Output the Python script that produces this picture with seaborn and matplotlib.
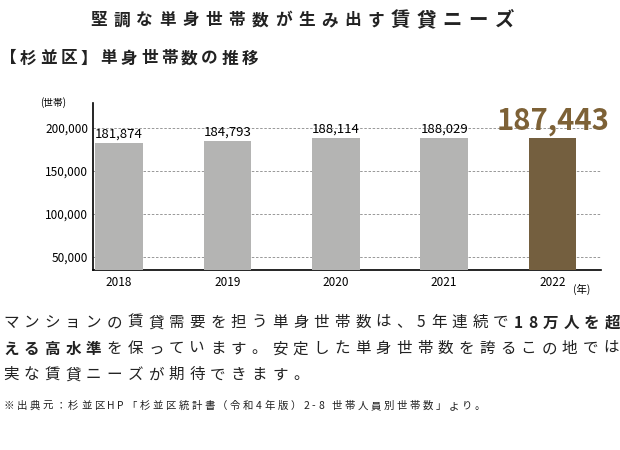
import matplotlib
matplotlib.use("Agg")
import matplotlib.pyplot as plt
import seaborn as sns
import pandas as pd

plt.rcParams["font.family"] = "Noto Sans CJK JP"

years = ["2018", "2019", "2020", "2021", "2022"]
households = [181874, 184793, 188114, 188029, 187443]
bar_colors = ["#b4b4b3", "#b4b4b3", "#b4b4b3", "#b4b4b3", "#7d6136"]
yticks = [50000, 100000, 150000, 200000]

df = pd.DataFrame({"year": years, "n": households})

fig = plt.figure(figsize=(6.2, 4.5), dpi=100)
ax = fig.add_axes([0.15, 0.40, 0.82, 0.37])
sns.barplot(data=df, x="year", y="n", hue="year", palette=bar_colors,
            legend=False, width=0.44, ax=ax, zorder=3)

ax.set_ylim(35000, 228000)
ax.set_xlim(-0.24, 4.45)
ax.set_yticks(yticks)
ax.set_yticklabels([f"{v:,}" for v in yticks], fontsize=8.5)
ax.yaxis.grid(True, linestyle=(0, (3, 2)), color="#888888", linewidth=0.6, zorder=0)
ax.tick_params(axis="both", length=0, labelsize=8.5)
ax.tick_params(axis="x", pad=4)
ax.set_xlabel("")
ax.set_ylabel("")
for s in ["top", "right"]:
    ax.spines[s].set_visible(False)
ax.spines["left"].set_linewidth(1.2)
ax.spines["bottom"].set_linewidth(1.2)

for i, v in enumerate(households[:-1]):
    ax.text(i, v + 2500, f"{v:,}", ha="center", va="bottom", fontsize=9.5, zorder=4)
ax.text(4, households[-1] + 2500, f"{households[-1]:,}", ha="center", va="bottom",
        fontsize=21, fontweight="bold", color="#7d6136", zorder=4)

fig.text(0.065, 0.772, "(世帯)", fontsize=7, ha="left", va="center")
fig.text(0.925, 0.357, "(年)", fontsize=7.5, ha="left", va="center")

fig.canvas.draw()
r = fig.canvas.get_renderer()


def spaced(parts, x, y, track):
    # 一文字ずつ描いて字間をあける
    for txt, size, w in parts:
        for ch in txt:
            t = fig.text(x, y, ch, fontsize=size, fontweight=w, va="center", color="#222222")
            x += (t.get_window_extent(renderer=r).width + track) / fig.bbox.width
    return x


spaced([("堅調な単身世帯数が生み出す", 12, "bold"), ("賃貸ニーズ", 14, "bold")], 0.145, 0.955, 6.5)
spaced([("【杉並区】単身世帯数の推移", 12, "bold")], 0.0, 0.87, 3.5)

lines = [
    [("マンションの賃貸需要を担う単身世帯数は、5年連続で", 11.2, "normal"), ("18万人を超", 11.2, "bold")],
    [("える高水準", 11.2, "bold"), ("を保っています。安定した単身世帯数を誇るこの地では堅", 11.2, "normal")],
    [("実な賃貸ニーズが期待できます。", 11.2, "normal")],
]
for parts, y in zip(lines, [0.283, 0.225, 0.167]):
    spaced(parts, 0.005, y, 5.2)

spaced([("※出典元：杉並区HP「杉並区統計書（令和4年版）2-8 世帯人員別世帯数」より。", 7.5, "normal")],
       0.005, 0.098, 2.6)

fig.savefig("out.png", dpi=100)
